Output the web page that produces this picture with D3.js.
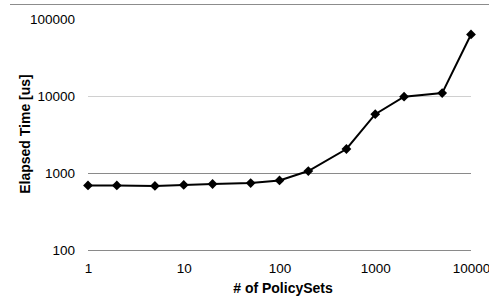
<!DOCTYPE html>
<html>
<head>
<meta charset="utf-8">
<script src="https://cdn.jsdelivr.net/npm/d3@7"></script>
<style>
  html, body { margin: 0; padding: 0; background: #fff; }
  svg { display: block; font-family: "Liberation Sans", Arial, sans-serif; }
</style>
</head>
<body>
<svg class="chart"></svg>
<script>
  // data
  const policySets = [1, 2, 5, 10, 20, 50, 100, 200, 500, 1000, 2000, 5000, 10000];
  const elapsedUs = [690, 690, 680, 700, 720, 740, 800, 1060, 2050, 5800, 9800, 10900, 63000];
  const xTicks = [1, 10, 100, 1000, 10000];
  const yTicks = [100, 1000, 10000, 100000];

  const width = 489, height = 303;
  const svg = d3.select(".chart").attr("width", width).attr("height", height);

  const x = d3.scaleLog().domain([1, 10000]).range([88, 471]);
  const y = d3.scaleLog().domain([100, 100000]).range([250, 19]);

  // faint chart border (top)
  svg.append("line")
    .attr("x1", 10).attr("x2", width).attr("y1", 4.5).attr("y2", 4.5)
    .attr("stroke", "#8c8c8c").attr("stroke-width", 1);

  // gridlines
  svg.append("g")
    .selectAll("line")
    .data(yTicks)
    .enter()
    .append("line")
    .attr("x1", x(1)).attr("x2", x(10000))
    .attr("y1", (d) => y(d) + 0.5).attr("y2", (d) => y(d) + 0.5)
    .attr("stroke", (d) => (d === 100000 ? "none" : d === 10000 ? "#d0d0d0" : "#8a8a8a"))
    .attr("stroke-width", 1);

  // y tick labels
  const yAxis = d3.axisLeft(y).tickValues(yTicks).tickFormat(d3.format("d")).tickSize(0).tickPadding(13);
  const gy = svg.append("g").attr("transform", `translate(${x(1)},0)`).call(yAxis);
  gy.select(".domain").remove();
  gy.selectAll("text")
    .attr("font-size", "13.5px")
    .attr("font-family", "Liberation Sans, Arial, sans-serif")
    .attr("fill", "#000");

  // x tick labels
  const xAxis = d3.axisBottom(x).tickValues(xTicks).tickFormat(d3.format("d")).tickSize(0).tickPadding(10);
  const gx = svg.append("g").attr("transform", `translate(0,${y(100) + 3})`).call(xAxis);
  gx.select(".domain").remove();
  gx.selectAll("text")
    .attr("font-size", "13.5px")
    .attr("font-family", "Liberation Sans, Arial, sans-serif")
    .attr("fill", "#000");

  // axis titles
  svg.append("text")
    .attr("x", 283).attr("y", 293)
    .attr("text-anchor", "middle")
    .attr("font-size", "14px").attr("font-weight", "bold")
    .text("# of PolicySets");

  svg.append("text")
    .attr("transform", "translate(30,134) rotate(-90)")
    .attr("text-anchor", "middle")
    .attr("font-size", "14px").attr("font-weight", "bold")
    .text("Elapsed Time [us]");

  // series
  const pts = policySets.map((p, i) => [p, elapsedUs[i]]);
  const line = d3.line().x((d) => x(d[0])).y((d) => y(d[1]));

  svg.append("path")
    .datum(pts)
    .attr("d", line)
    .attr("fill", "none")
    .attr("stroke", "#000")
    .attr("stroke-width", 2);

  // square diamonds, as in the spreadsheet marker
  svg.append("g")
    .selectAll("path")
    .data(pts)
    .enter()
    .append("path")
    .attr("d", d3.symbol().type(d3.symbolSquare).size(48))
    .attr("transform", (d) => `translate(${x(d[0])},${y(d[1])}) rotate(45)`)
    .attr("fill", "#000");
</script>
</body>
</html>
